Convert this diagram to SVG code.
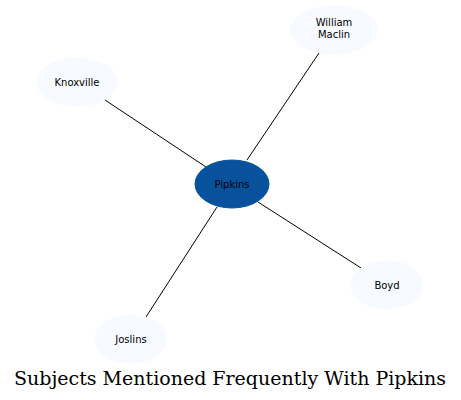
<svg xmlns="http://www.w3.org/2000/svg" width="461" height="400" viewBox="0 0 461 400">
<style>
.n{fill:#f7fbff;stroke:#f7fbff}
.t{font-family:"DejaVu Sans",sans-serif;font-size:10px;text-anchor:middle;fill:#000}
.e{stroke:#000;stroke-width:1;fill:none}
</style>
<rect width="461" height="400" fill="#fff"/>
<g id="edges">
<path class="e" d="M247,160L319,53"/>
<path class="e" d="M206,167L105,100"/>
<path class="e" d="M258,202L361,268"/>
<path class="e" d="M217,207L146,317"/>
</g>
<g id="pipkins"><ellipse cx="232" cy="184" rx="37" ry="24" fill="#08519c" stroke="#08519c"/><text class="t" x="232" y="188">Pipkins</text></g>
<g id="william"><ellipse class="n" cx="334" cy="30" rx="43" ry="24"/><text class="t" x="334" y="26">William</text><text class="t" x="334" y="38">Maclin</text></g>
<g id="knoxville"><ellipse class="n" cx="77" cy="82" rx="40" ry="24"/><text class="t" x="77" y="86">Knoxville</text></g>
<g id="boyd"><ellipse class="n" cx="387" cy="285" rx="36" ry="24"/><text class="t" x="387" y="289">Boyd</text></g>
<g id="joslins"><ellipse class="n" cx="131" cy="339" rx="36" ry="24"/><text class="t" x="131" y="343">Joslins</text></g>
<text x="230" y="385" font-family="DejaVu Serif,serif" font-size="19" text-anchor="middle" fill="#000">Subjects Mentioned Frequently With Pipkins</text>
</svg>
